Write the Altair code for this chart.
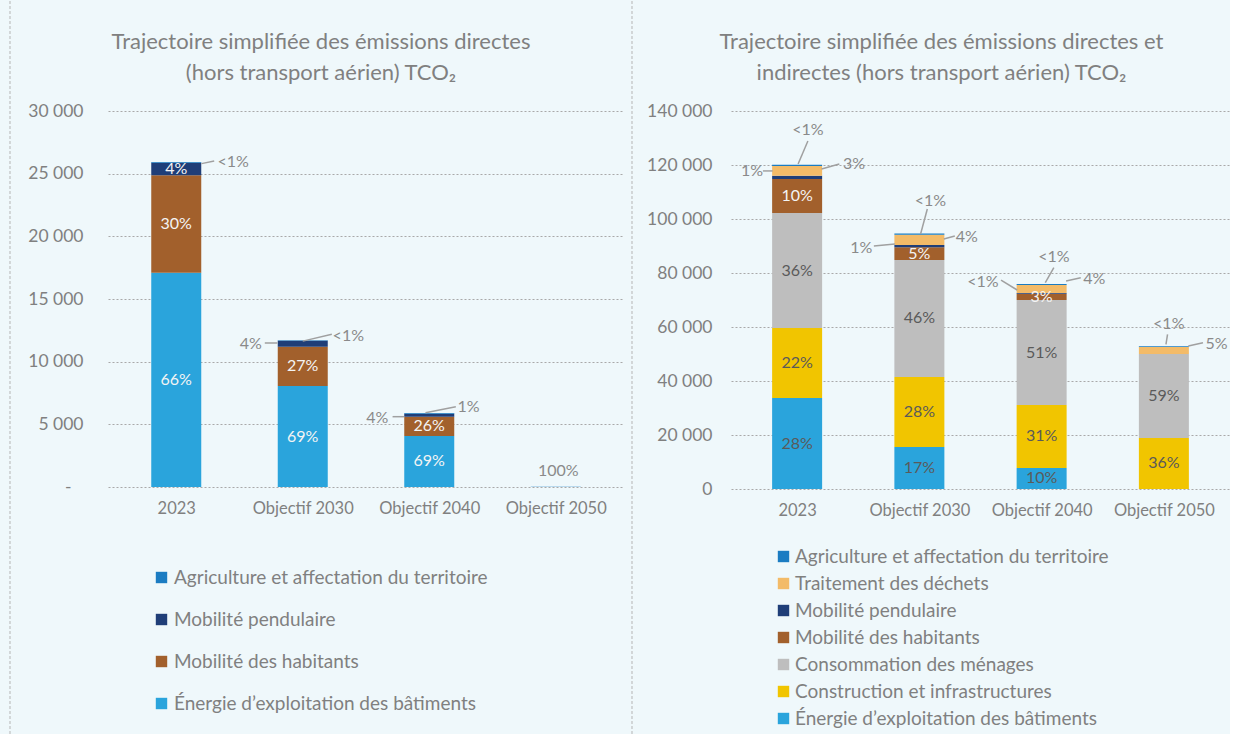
import json
import altair as alt
import pandas as pd

FONT = "Lato"
GREY = "#808080"
BG = "#eff8fb"

categories = ["2023", "Objectif 2030", "Objectif 2040", "Objectif 2050"]

AGR = "Agriculture et affectation du territoire"
DEC = "Traitement des déchets"
PEN = "Mobilité pendulaire"
HAB = "Mobilité des habitants"
CON = "Consommation des ménages"
CST = "Construction et infrastructures"
ENE = "Énergie d’exploitation des bâtiments"

colors = {
    AGR: "#1b7cc2",
    DEC: "#f3bb68",
    PEN: "#1f3e78",
    HAB: "#a2602c",
    CON: "#bebebe",
    CST: "#f1c500",
    ENE: "#2aa4dc",
}

# ---------- Left chart: direct emissions (tCO2) ----------
left_stack = [ENE, HAB, PEN, AGR]            # bottom -> top
left_legend = [AGR, PEN, HAB, ENE]
left_values = {
    ENE: [17100, 8050, 4070, 0],
    HAB: [7770, 3150, 1530, 0],
    PEN: [1000, 470, 240, 0],
    AGR: [60, 40, 60, 10],
}
left_labels = {
    ENE: ["66%", "69%", "69%", ""],
    HAB: ["30%", "27%", "26%", ""],
    PEN: ["4%", "", "", ""],
    AGR: ["", "", "", ""],
}
left_ann_x = [0.45, 0.59, 1.36, 1.59, 2.31, 3.02]
left_ann_y = [25930, 11410, 12050, 5530, 6400, 1280]
left_ann_t = ["<1%", "4%", "<1%", "4%", "1%", "100%"]
left_ln_x = [0.20, 0.70, 1.00, 1.71, 1.97]
left_ln_y = [25800, 11490, 11640, 5610, 5930]
left_ln_x2 = [0.30, 0.80, 1.23, 1.80, 2.21]
left_ln_y2 = [26010, 11490, 12180, 5610, 6400]

# ---------- Right chart: direct + indirect emissions (tCO2) ----------
right_stack = [ENE, CST, CON, HAB, PEN, DEC, AGR]
right_legend = [AGR, DEC, PEN, HAB, CON, CST, ENE]
right_values = {
    ENE: [33700, 15600, 7800, 0],
    CST: [25900, 25900, 23300, 18900],
    CON: [42600, 43300, 38900, 31100],
    HAB: [12600, 4700, 2300, 0],
    PEN: [1200, 900, 300, 0],
    DEC: [3600, 3800, 3000, 2600],
    AGR: [500, 400, 300, 300],
}
right_labels = {
    ENE: ["28%", "17%", "10%", ""],
    CST: ["22%", "28%", "31%", "36%"],
    CON: ["36%", "46%", "51%", "59%"],
    HAB: ["10%", "5%", "3%", ""],
    PEN: ["", "", "", ""],
    DEC: ["", "", "", ""],
    AGR: ["", "", "", ""],
}
right_ann_x = [0.088, -0.369, 0.465, 1.09, 0.525, 1.387, 1.52, 2.10, 2.43, 3.04, 3.43]
right_ann_y = [132970, 117800, 120500, 106680, 89380, 93340, 76670, 85930, 77680, 61230, 53600]
right_ann_t = ["<1%", "1%", "3%", "<1%", "1%", "4%", "<1%", "<1%", "4%", "<1%", "5%"]
right_ln_x = [0.008, -0.28, 0.20, 0.628, 1.01, 1.20, 1.668, 2.03, 2.20, 3.017, 3.20]
right_ln_y = [120380, 117800, 118530, 90000, 94450, 92600, 77400, 76400, 77040, 53600, 52970]
right_ln_x2 = [0.088, -0.20, 0.345, 0.80, 1.065, 1.29, 1.80, 2.10, 2.32, 3.03, 3.32]
right_ln_y2 = [128900, 117800, 120380, 90750, 103700, 93700, 73700, 82000, 78260, 57300, 54200]


def build_df(stack, values, labels, white_series):
    rows = []
    for i, cat in enumerate(categories):
        base = 0
        for s in stack:
            v = values[s][i]
            rows.append({
                "cat": cat, "idx": i, "series": s, "value": v,
                "y0": base, "y1": base + v, "mid": base + v / 2,
                "label": labels[s][i],
                "lblcolor": "#f4f4f4" if s in white_series else "#5a5a5a",
            })
            base += v
    return pd.DataFrame(rows)


def panel(df, ann, lines, legend_order, width, height, ymax, ystep, title, dx,
          label_pad, zero_pad, legend_x, legend_y, row_pad, label_off, zero_label, extra=None):
    xscale = alt.Scale(domain=[-0.5, 3.5], nice=False, zero=False)
    yscale = alt.Scale(domain=[0, ymax], nice=False)
    label_expr = json.dumps(categories) + "[datum.value]"
    xaxis = alt.Axis(values=[0, 1, 2, 3], labelExpr=label_expr, title=None, ticks=False,
                     domain=False, grid=False, labelFontSize=16.5, labelColor=GREY,
                     labelFont=FONT, labelPadding=13)
    yaxis = alt.Axis(values=list(range(0, ymax + 1, ystep)),
                     labelExpr="datum.value == 0 ? " + json.dumps(zero_label) +
                               " : replace(format(datum.value, ','), ',', ' ')",
                     title=None, ticks=False, domain=False, grid=True,
                     gridColor="#a9a9a9", gridDash=[2, 2], gridWidth=1,
                     labelFontSize=17.5, labelColor=GREY, labelFont=FONT,
                     labelPadding={"condition": {"test": "datum.value == 0", "value": zero_pad},
                                   "value": label_pad})
    base = alt.Chart(df)
    bars = base.mark_bar(size=50).encode(
        x=alt.X("idx:Q", scale=xscale, axis=xaxis),
        y=alt.Y("y0:Q", scale=yscale, axis=yaxis),
        y2="y1:Q",
        color=alt.Color(
            "series:N",
            scale=alt.Scale(domain=legend_order, range=[colors[s] for s in legend_order]),
            legend=alt.Legend(title=None, orient="none", legendX=legend_x, legendY=legend_y,
                              direction="vertical", symbolType="square", symbolSize=130,
                              symbolStrokeWidth=0, labelFontSize=19, labelColor=GREY,
                              labelFont=FONT, rowPadding=row_pad, labelOffset=label_off,
                              labelLimit=0),
        ),
    )
    inner = base.transform_filter("datum.label != ''").mark_text(
        fontSize=16, font=FONT).encode(
        x="idx:Q", y="mid:Q", text="label:N",
        color=alt.Color("lblcolor:N", scale=None))
    lead = alt.Chart(lines).mark_rule(color="#a0a0a0", strokeWidth=1.5).encode(
        x="x:Q", y="y:Q", x2="x2:Q", y2="y2:Q")
    outer = alt.Chart(ann).mark_text(fontSize=16, font=FONT, color="#8a8a8a").encode(
        x="x:Q", y="y:Q", text="t:N")
    top_pin = alt.Chart(pd.DataFrame({"d": [0]})).mark_rule(color=BG, strokeWidth=1).encode(
        x=alt.value(0), x2=alt.value(2), y=alt.value(-110))
    layers = [bars, inner, lead, outer, top_pin]
    if extra:
        layers += extra
    return alt.layer(*layers).properties(
        width=width, height=height,
        title=alt.TitleParams(text=title, fontSize=22, color=GREY, font=FONT,
                              fontWeight="normal", anchor="middle", frame="group",
                              offset=-84, dx=dx, lineHeight=31),
    )


left_df = build_df(left_stack, left_values, left_labels, set(left_stack))
right_df = build_df(right_stack, right_values, right_labels, {HAB, PEN})

left_ann = pd.DataFrame({"x": left_ann_x, "y": left_ann_y, "t": left_ann_t})
left_lines = pd.DataFrame({"x": left_ln_x, "y": left_ln_y, "x2": left_ln_x2, "y2": left_ln_y2})
right_ann = pd.DataFrame({"x": right_ann_x, "y": right_ann_y, "t": right_ann_t})
right_lines = pd.DataFrame({"x": right_ln_x, "y": right_ln_y, "x2": right_ln_x2, "y2": right_ln_y2})

# decorations: page frame line on the left and the separator between the two charts
sep = alt.Chart(pd.DataFrame({"d": [0]})).mark_rule(
    color="#b5b5b5", strokeDash=[3, 2], strokeWidth=1).encode(
    x=alt.value(524), y=alt.value(-110), y2=alt.value(624))
frame = alt.Chart(pd.DataFrame({"d": [0]})).mark_rule(
    color="#b5b5b5", strokeDash=[3, 2], strokeWidth=1).encode(
    x=alt.value(-98), y=alt.value(-110), y2=alt.value(624))
pin = alt.Chart(pd.DataFrame({"d": [0]})).mark_rule(color=BG, strokeWidth=1).encode(
    x=alt.value(-107), x2=alt.value(-100), y=alt.value(-110))

left = panel(left_df, left_ann, left_lines, left_legend, 516, 376, 30000, 5000,
             ["Trajectoire simplifiée des émissions directes",
              "(hors transport aérien) TCO₂"], -45, 25, 37, 44, 457, 22, 3,
             "-", extra=[sep, frame, pin])
right = panel(right_df, right_ann, right_lines, right_legend, 499, 378, 140000, 20000,
              ["Trajectoire simplifiée des émissions directes et",
               "indirectes (hors transport aérien) TCO₂"], -39, 19, 19, 43, 436, 7, 2, "0")

chart = alt.hconcat(left, right, spacing=107, bounds="flush").resolve_scale(
    color="independent", x="independent", y="independent"
).configure(
    background=BG, padding=0
).configure_view(stroke=None)

chart.save("out.html", embed_options={"renderer": "svg", "actions": False})
